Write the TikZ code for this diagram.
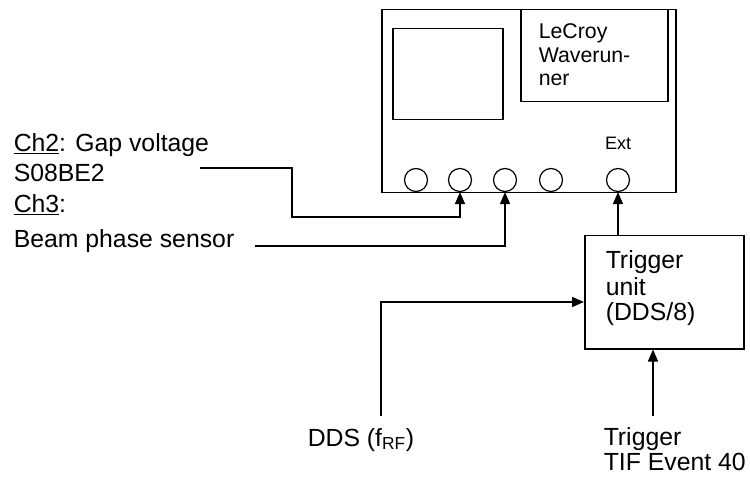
\documentclass[tikz,border=0pt]{standalone}
\usepackage{fontspec}
\setmainfont{Liberation Sans}
\usetikzlibrary{arrows.meta,calc}
\begin{document}
\begin{tikzpicture}[x=1pt,y=-1pt,
  line width=1.5pt,
  box/.style={draw,line width=1.5pt,inner sep=0,anchor=north west},
  port/.style={draw,circle,line width=1.2pt,minimum size=23pt,inner sep=0},
  arr/.style={-{Triangle[length=12pt,width=10pt]},line width=1.5pt},
  txt/.style={inner sep=0,anchor=base west,font=\fontsize{24.8}{28}\selectfont},
  smalltxt/.style={inner sep=0,anchor=base west,font=\fontsize{21.3}{24}\selectfont}]
\useasboundingbox (0,0) rectangle (750,481);
% oscilloscope
\node[box,minimum width=294pt,minimum height=183pt] (scope) at (381,9) {};
\node[box,minimum width=110pt,minimum height=91pt] (screen) at (392,28) {};
\node[box,minimum width=147pt,minimum height=92pt] (lecroy) at (520,9) {};
\node[smalltxt] (lc1) at (538,39) {LeCroy};
\node[smalltxt] (lc2) at (538,63) {Waverun-};
\node[smalltxt] (lc3) at (538,86) {ner};
\node[port] (c1) at (416,180) {};
\node[port] (c2) at (460,180) {};
\node[port] (c3) at (505,180) {};
\node[port] (c4) at (551,180) {};
\node[port] (c5) at (618,180) {};
\node[inner sep=0,anchor=base,font=\fontsize{18}{20}\selectfont] (ext) at (618,150) {Ext};
% trigger unit
\node[box,minimum width=159pt,minimum height=113pt] (trig) at (584,235) {};
\node[txt] (t1) at (605,269) {Trigger};
\node[txt] (t2) at (605,295) {unit};
\node[txt] (t3) at (605,320) {(DDS/8)};
% left labels
\node[txt] (ch2a) at (13,152) {\underline{Ch2}: Gap voltage};
\node[txt] (ch2b) at (13,182) {S08BE2};
\node[txt] (ch3a) at (13,213) {\underline{Ch3}:};
\node[txt] (ch3b) at (13,248) {Beam phase sensor};
% bottom labels
\node[txt] (dds) at (307,446) {DDS (f\textsubscript{RF})};
\node[txt] (tg1) at (603,445) {Trigger};
\node[txt] (tg2) at (603,470) {TIF Event 40};
% connectors
\coordinate (ch2src) at (200,168);
\coordinate (beamsrc) at (255,246);
\coordinate (ddssrc) at (381,416);
\coordinate (tifsrc) at (653,416);
\draw[arr] (ch2src) -| (292,217) -| (c2.south);
\draw[arr] (beamsrc) -| (c3.south);
\draw[arr] (trig.north -| c5) -- (c5.south);
\draw[arr] (ddssrc) |- ($(trig.north west)+(0,67)$);
\draw[arr] (tifsrc) -- (tifsrc |- trig.south);
\end{tikzpicture}
\end{document}
